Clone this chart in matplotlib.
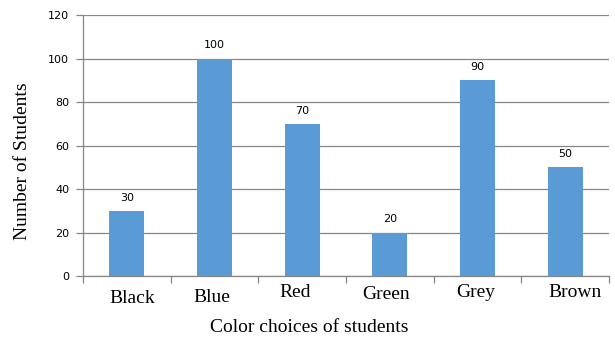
import matplotlib.pyplot as plt
import numpy as np

# color choices survey
colors = ['Black', 'Blue', 'Red', 'Green', 'Grey', 'Brown']
students = [30, 100, 70, 20, 90, 50]
yticks = [0, 20, 40, 60, 80, 100, 120]

bar_color = '#5B9BD5'
line_color = '#868686'
serif = 'Liberation Serif'

fig = plt.figure(figsize=(6.15, 3.43), dpi=100)
ax = fig.add_axes([0.135, 0.195, 0.855, 0.761])

x = np.arange(len(colors))
ax.bar(x, students, width=0.40, color=bar_color, zorder=3)

# value labels over each bar
for xi, v in zip(x, students):
    ax.annotate(str(v), (xi, v), xytext=(0, 6), textcoords='offset points',
                ha='center', va='bottom', fontsize=8, color='black')

ax.set_xlim(-0.5, len(colors) - 0.5)
ax.set_ylim(0, 120)
ax.set_yticks(yticks)
ax.set_yticklabels([str(t) for t in yticks], fontsize=8)
ax.yaxis.grid(True, color=line_color, linewidth=0.9, zorder=0)

# category boundary ticks below the axis
ax.set_xticks(np.arange(-0.5, len(colors)), minor=False)
ax.set_xticklabels([])
ax.tick_params(axis='x', length=5, color=line_color, width=0.9, direction='out')
ax.tick_params(axis='y', length=5, color=line_color, width=0.9, direction='out', pad=5)

# category names, placed by hand so they sit a little unevenly (px)
label_dx = [5, -3, -7, -4, -2, 10]
label_dy = [22, 21, 16, 18, 16, 16]
for xi, name, dx, dy in zip(x, colors, label_dx, label_dy):
    ax.annotate(name, (xi, 0), xytext=(dx * 0.72, -dy * 0.72), textcoords='offset points',
                ha='center', va='center', fontsize=14, family=serif)

for side in ['top', 'right']:
    ax.spines[side].set_visible(False)
for side in ['left', 'bottom']:
    ax.spines[side].set_color(line_color)
    ax.spines[side].set_linewidth(0.9)

fig.text(0.503, 0.044, 'Color choices of students', ha='center', va='center',
         fontsize=14, family=serif)
fig.text(0.037, 0.53, 'Number of Students', ha='center', va='center',
         rotation=90, fontsize=14, family=serif)

fig.savefig('out.png', dpi=100)
